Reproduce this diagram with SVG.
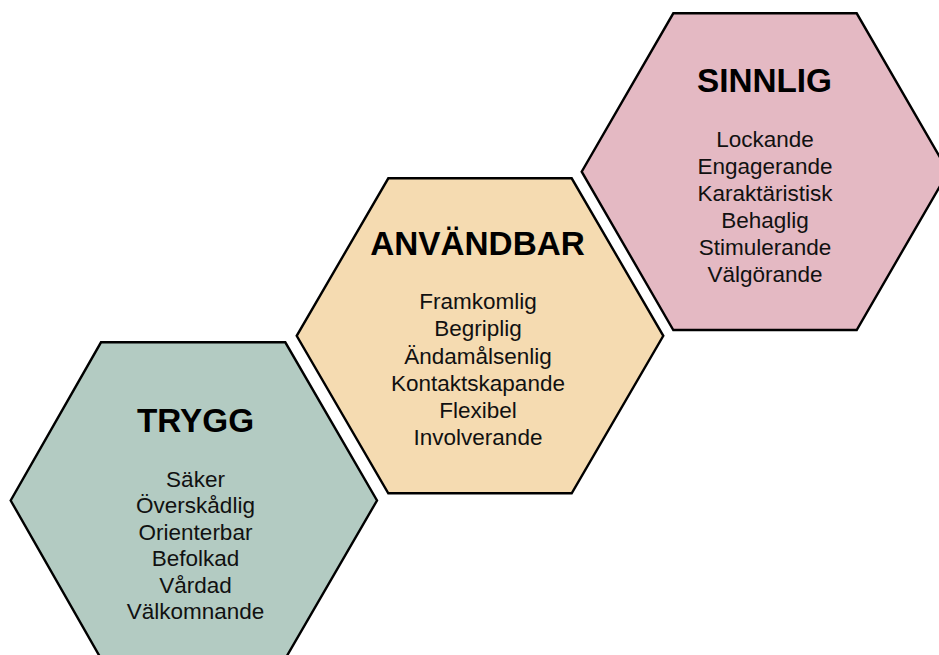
<svg xmlns="http://www.w3.org/2000/svg" width="939" height="655" viewBox="0 0 939 655">
<style>
.hex{stroke:#000;stroke-width:2.4;stroke-linejoin:miter}
.t{font-family:"Liberation Sans",Arial,sans-serif;font-weight:bold;font-size:33.3px;text-anchor:middle;fill:#000}
.b{font-family:"Liberation Sans",Arial,sans-serif;font-size:22.5px;text-anchor:middle;fill:#111}
</style>
<rect width="939" height="655" fill="#fff"/>
<g id="connectors"/>
<g id="trygg">
<polygon class="hex" fill="#b3cbc2" points="101,342.3 285.3,342.3 377,500.5 285.3,658.7 101,658.7 10.7,500.5"/>
<text class="t" x="195.5" y="431.7">TRYGG</text>
<text class="b" x="195.5" y="486.7">Säker</text>
<text class="b" x="195.5" y="513.2">Överskådlig</text>
<text class="b" x="195.5" y="539.7">Orienterbar</text>
<text class="b" x="195.5" y="566.2">Befolkad</text>
<text class="b" x="195.5" y="592.7">Vårdad</text>
<text class="b" x="195.5" y="619.2">Välkomnande</text>
</g>
<g id="anvandbar">
<polygon class="hex" fill="#f5dbb1" points="388.3,178.3 571.7,178.3 663.3,335.8 571.7,493.3 388.3,493.3 296.7,335.8"/>
<text class="t" x="477.5" y="255">ANVÄNDBAR</text>
<text class="b" x="478" y="309.3">Framkomlig</text>
<text class="b" x="478" y="336.4">Begriplig</text>
<text class="b" x="478" y="363.5">Ändamålsenlig</text>
<text class="b" x="478" y="390.7">Kontaktskapande</text>
<text class="b" x="478" y="417.8">Flexibel</text>
<text class="b" x="478" y="445">Involverande</text>
</g>
<g id="sinnlig">
<polygon class="hex" fill="#e4b9c3" points="673.3,13.3 856.7,13.3 948.3,171.7 856.7,330 673.3,330 581.7,171.7"/>
<text class="t" x="764.5" y="91.7">SINNLIG</text>
<text class="b" x="765" y="146.7">Lockande</text>
<text class="b" x="765" y="173.7">Engagerande</text>
<text class="b" x="765" y="200.7">Karaktäristisk</text>
<text class="b" x="765" y="227.7">Behaglig</text>
<text class="b" x="765" y="254.7">Stimulerande</text>
<text class="b" x="765" y="281.7">Välgörande</text>
</g>
</svg>
